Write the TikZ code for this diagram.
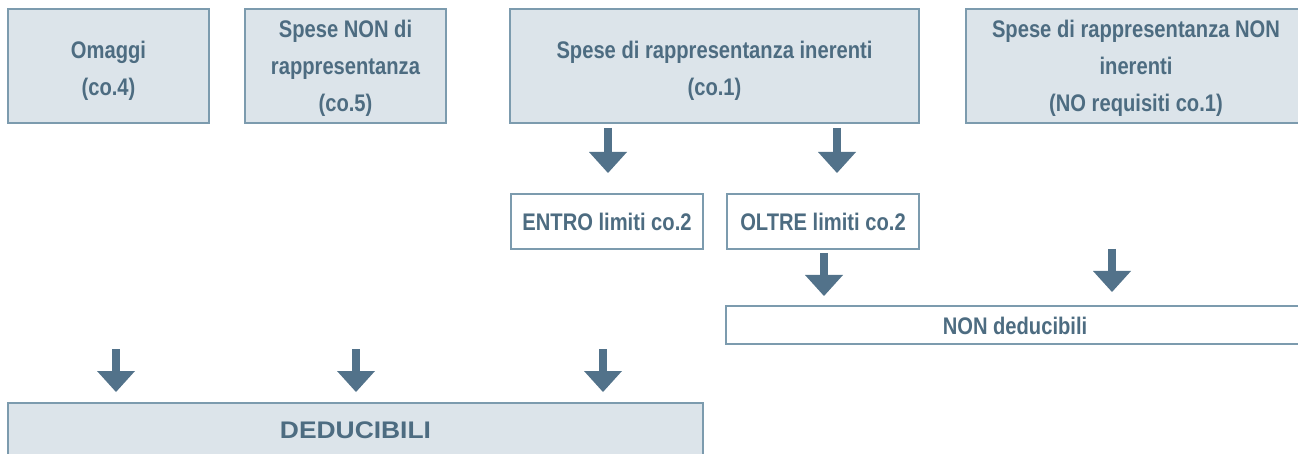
\documentclass[tikz,border=0pt]{standalone}
\usepackage{fontspec}
\setmainfont{Liberation Sans}
\newfontfamily\condfont{Liberation Sans}[FakeStretch=0.84]
\usetikzlibrary{arrows.meta}
\definecolor{boxfill}{HTML}{DCE4EA}
\definecolor{boxline}{HTML}{7C9BAE}
\definecolor{ink}{HTML}{4D6C81}
\definecolor{arrowcol}{HTML}{52728A}
% raises the top of a first line so the text block sits lower in its box
\newcommand\headroom[1]{\rule{0pt}{#1}}
\begin{document}
\begin{tikzpicture}[x=1pt,y=-1pt,
  card/.style={draw=boxline, line width=2pt, fill=boxfill, text=ink,
    align=center, inner sep=0pt,
    font=\condfont\bfseries\fontsize{24}{37}\selectfont},
  whitecard/.style={card, fill=white},
  blockarrow/.style={draw=arrowcol, line width=8.5pt,
    -{Triangle[width=38pt,length=21pt,line width=0pt]}}]
\useasboundingbox (0,0) rectangle (1298,454);
\clip (0,0) rectangle (1298,454);

% top row: categories of expenses
\node[card, minimum width=201pt, minimum height=114pt] (om)  at (108.5,66) {\headroom{26pt}Omaggi\\(co.4)};
\node[card, minimum width=201pt, minimum height=114pt] (snr) at (345.5,66) {\headroom{22pt}Spese NON di\\rappresentanza\\(co.5)};
\node[card, minimum width=409pt, minimum height=114pt] (inr) at (714.5,66) {\headroom{26pt}Spese di rappresentanza inerenti\\(co.1)};
\node[card, minimum width=340pt, minimum height=114pt] (nin) at (1136,66) {\headroom{22pt}Spese di rappresentanza NON\\inerenti\\(NO requisiti co.1)};

% limits of co.2
\node[whitecard, minimum width=192pt, minimum height=55pt] (entro) at (607,221.5) {\headroom{19pt}ENTRO limiti co.2};
\node[whitecard, minimum width=192pt, minimum height=55pt] (oltre) at (823,221.5) {OLTRE limiti co.2};

% outcomes
\node[whitecard, minimum width=578pt, minimum height=38pt] (nded) at (1015,325) {\headroom{19pt}NON deducibili};
\node[card, minimum width=695pt, minimum height=58pt,
  font=\bfseries\fontsize{24}{30}\selectfont] (ded) at (355.5,432)
  {\raisebox{3.5pt}{\addfontfeature{FakeStretch=1.1}DEDUCIBILI}};

% arrow end points
\coordinate (a1s) at (608,128);  \coordinate (a1e) at (608,173);
\coordinate (a2s) at (837,128);  \coordinate (a2e) at (837,173);
\coordinate (a3s) at (824,253);  \coordinate (a3e) at (824,296);
\coordinate (a4s) at (1112,249); \coordinate (a4e) at (1112,292);
\coordinate (a5s) at (116,349);  \coordinate (a5e) at (116,392);
\coordinate (a6s) at (356,349);  \coordinate (a6e) at (356,392);
\coordinate (a7s) at (603,349);  \coordinate (a7e) at (603,392);

\foreach \k in {1,...,7} \draw[blockarrow] (a\k s) -- (a\k e);
\end{tikzpicture}
\end{document}
